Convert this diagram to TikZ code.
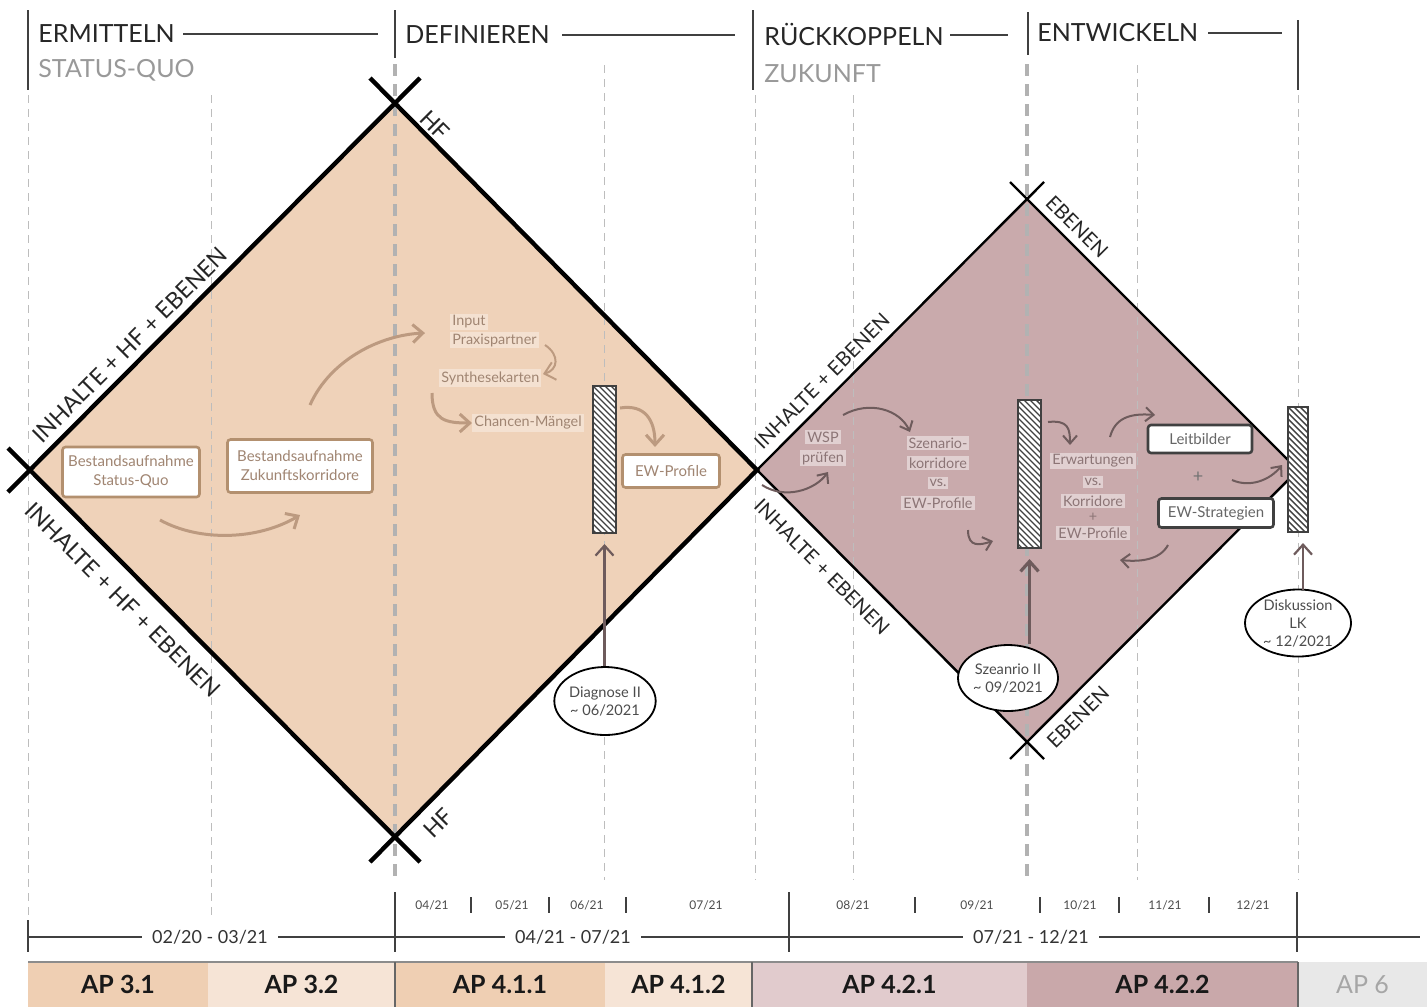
\documentclass[tikz,border=0pt]{standalone}
\usepackage{fontspec}
\setmainfont{Lato}
\usetikzlibrary{shapes.geometric,arrows.meta,calc}
\definecolor{peach}{HTML}{EFD2B9}
\definecolor{mauve}{HTML}{C9AAAC}
\definecolor{bbrown}{HTML}{B3906F}
\definecolor{tbrown}{HTML}{A08572}
\definecolor{abrown}{HTML}{BC9A80}
\definecolor{tmauve}{HTML}{8C7576}
\definecolor{amauve}{HTML}{6E5B5C}
\definecolor{lgrey}{HTML}{BDBDBD}
\definecolor{ap31}{HTML}{EFCFB3}
\definecolor{ap32}{HTML}{F6E4D6}
\definecolor{ap421}{HTML}{E1CBCD}
\definecolor{ap422}{HTML}{C9A8AA}
\definecolor{ap6}{HTML}{E8E8E8}
\begin{document}
\begin{tikzpicture}[x=0.5pt,y=-0.5pt,
 hdr/.style={font=\fontsize{12.5}{14}\selectfont, text=black!85, anchor=west, inner sep=0},
 subhdr/.style={hdr, text=black!40},
 vsolid/.style={line width=0.7pt, black!75},
 thindash/.style={lgrey, line width=0.5pt, dash pattern=on 4pt off 3pt},
 thickdash/.style={black!30, line width=1.6pt, dash pattern=on 6pt off 4pt},
 edgeone/.style={line width=2.2pt, black},
 edgetwo/.style={line width=1.2pt, black},
 diaglbl/.style={font=\fontsize{11.5}{13}\selectfont, text=black!85, inner sep=0},
 bbox/.style={draw=bbrown, line width=1.3pt, fill=white, rounded corners=1.5pt, text=tbrown, align=center, font=\fontsize{7.5}{9.5}\selectfont, inner sep=0},
 dbox/.style={bbox, draw=black!75, text=black!60},
 ftxt/.style={text=tbrown, font=\fontsize{7.2}{9}\selectfont, fill=white, fill opacity=0.35, text opacity=1, inner sep=1pt},
 mtxt/.style={ftxt, text=tmauve, fill opacity=0.45},
 barr/.style={abrown, line width=1.5pt, -{Straight Barb[length=5pt,width=9pt]}},
 marr/.style={amauve, line width=1pt, -{Straight Barb[length=4pt,width=7pt]}},
 varr/.style={amauve, line width=1.1pt, -{Straight Barb[length=5pt,width=9pt]}},
 hbar/.style={draw=black!75, line width=1pt, fill=white, inner sep=0, path picture={\foreach \k in {0,...,36}{\draw[black!75, line width=0.7pt] ([yshift={18pt-\k*3pt}]path picture bounding box.north west) -- ++(16pt,-16pt);}}},
 bubble/.style={ellipse, draw=black, line width=0.9pt, fill=white, align=center, text=black!70, font=\fontsize{7.3}{9}\selectfont, inner sep=0},
 mon/.style={font=\fontsize{6}{7}\selectfont, text=black!70},
 spanlbl/.style={font=\fontsize{9}{10}\selectfont, text=black!80, fill=white, inner xsep=5pt, inner ysep=1pt},
 apbox/.style={font=\bfseries\fontsize{12.5}{14}\selectfont, text=black!90, inner sep=0, minimum height=22.5pt}
]
\useasboundingbox (0,0) rectangle (1427,1007);
\fill[white] (0,0) rectangle (1427,1007);

% diamond fills
\fill[peach] (30,470) -- (395,103) -- (757,470) -- (395,837) -- cycle;
\fill[mauve] (757,470) -- (1027,199) -- (1298,470) -- (1027,742) -- cycle;

% header
\node[hdr] (h1) at (38,34) {ERMITTELN};
\node[subhdr] (s1) at (38,70) {STATUS-QUO};
\node[hdr] (h2) at (405,35) {DEFINIEREN};
\node[hdr] (h3) at (764,34) {RÜCKKOPPELN};
\node[subhdr] (s3) at (764,74) {ZUKUNFT};
\node[hdr] (h4) at (1037,33) {ENTWICKELN};
\draw[vsolid] (183,34) -- (378,34);
\draw[vsolid] (562,35) -- (735,35);
\draw[vsolid] (950,35) -- (1008,35);
\draw[vsolid] (1208,33) -- (1282,33);
\draw[vsolid] (28,10) -- (28,90);
\draw[vsolid] (395,10) -- (395,58);
\draw[vsolid] (753,10) -- (753,90);
\draw[vsolid] (1028,12) -- (1028,55);
\draw[vsolid] (1298,20) -- (1298,90);

% dashed guides
\foreach \xx in {28,211} \draw[thindash] (\xx,95) -- (\xx,915);
\foreach \xx in {604,1137} \draw[thindash] (\xx,65) -- (\xx,880);
\foreach \xx in {755,853,1298} \draw[thindash] (\xx,95) -- (\xx,880);
\draw[thickdash] (395,64) -- (395,880);
\draw[thickdash] (1027,64) -- (1027,880);

% diamond 1 edges
\draw[edgeone] (8,492) -- (420,78);
\draw[edgeone] (8,448) -- (420,862);
\draw[edgeone] (370,78) -- (757,470) -- (370,862);
% diamond 2 edges
\draw[edgetwo] (757,470) -- (1044,182);
\draw[edgetwo] (757,470) -- (1044,759);
\draw[edgetwo] (1010,182) -- (1298,470) -- (1010,759);

% diagonal labels
\node[diaglbl, rotate=45] (l1) at (130,345) {INHALTE + HF + EBENEN};
\node[diaglbl, rotate=-45] (l2) at (123,600) {INHALTE + HF + EBENEN};
\node[diaglbl, rotate=-45] (l3) at (435,125) {HF};
\node[diaglbl, rotate=45] (l4) at (438,823) {HF};
\node[diaglbl, font=\fontsize{10}{12}\selectfont, rotate=45] (l5) at (822,381) {INHALTE + EBENEN};
\node[diaglbl, font=\fontsize{10}{12}\selectfont, rotate=-45] (l6) at (822,567) {INHALTE + EBENEN};
\node[diaglbl, font=\fontsize{10}{12}\selectfont, rotate=-45] (l7) at (1077,227) {EBENEN};
\node[diaglbl, font=\fontsize{10}{12}\selectfont, rotate=45] (l8) at (1078,717) {EBENEN};

% diamond 1 content
\node[bbox, minimum width=68.5pt, minimum height=25pt] (b1) at (131,472) {Bestandsaufnahme\\Status-Quo};
\node[bbox, minimum width=72.5pt, minimum height=26.5pt] (b2) at (300,466) {Bestandsaufnahme\\Zukunftskorridore};
\node[bbox, minimum width=48.5pt, minimum height=16.5pt] (ewp) at (671,471) {EW-Profile};
\node[ftxt, anchor=west] (inp) at (450,322) {Input};
\node[ftxt, anchor=west] (prx) at (450,340) {Praxispartner};
\node[ftxt, anchor=west] (syn) at (439,378) {Synthesekarten};
\node[ftxt, anchor=west] (chm) at (472,423) {Chancen-Mängel};
\coordinate (a1s) at (160,520);
\coordinate (a2s) at (310,405);
\coordinate (a2e) at (425,333);
\draw[barr] (a1s) .. controls (200,542) and (258,540) .. (300,515);
\draw[barr] (a2s) .. controls (330,360) and (380,335) .. (a2e);
\draw[barr, line width=1pt] (545,345) .. controls (560,355) and (558,370) .. (543,374);
\draw[barr] (432,393) .. controls (432,420) and (445,423) .. (chm.west);
\draw[barr] (620,408) .. controls (645,404) and (655,420) .. (655,447);

% bars
\node[hbar, minimum width=11.5pt, minimum height=73.5pt] (bar1) at (604.5,459.5) {};
\node[hbar, minimum width=11.5pt, minimum height=74pt] (bar2) at (1029.5,474) {};
\node[hbar, minimum width=10pt, minimum height=62.5pt] (bar3) at (1298,469.5) {};

% diamond 2 content
\node[mtxt] (wsp) at (823,437) {WSP};
\node[mtxt] (pru) at (823,458) {prüfen};
\node[mtxt] (sz1) at (938,443) {Szenario-};
\node[mtxt] (sz2) at (938,463) {korridore};
\node[mtxt] (sz3) at (938,483) {vs.};
\node[mtxt] (sz4) at (938,503) {EW-Profile};
\node[mtxt] (er1) at (1093,461) {Erwartungen};
\node[mtxt] (er2) at (1093,482) {vs.};
\node[mtxt] (er3) at (1093,501) {Korridore};
\node[mtxt, fill opacity=0] (er4) at (1093,517) {+};
\node[mtxt] (er5) at (1093,533) {EW-Profile};
\node[dbox, minimum width=52pt, minimum height=14pt] (leit) at (1200,439) {Leitbilder};
\node[dbox, minimum width=57.5pt, minimum height=14.5pt] (ews) at (1216,513) {EW-Strategien};
\node[text=black!55, font=\fontsize{9}{10}\selectfont] (plus) at (1198,477) {+};
\draw[marr] (762,485) .. controls (785,500) and (815,490) .. (828,472);
\draw[marr] (843,415) .. controls (870,400) and (900,410) .. (910,432);
\draw[marr] (968,530) .. controls (968,548) and (980,545) .. (993,541);
\draw[marr] (1048,422) .. controls (1068,420) and (1070,428) .. (1070,445);
\draw[marr] (1110,437) .. controls (1115,418) and (1130,413) .. (1155,415);
\draw[marr] (1232,480) .. controls (1250,488) and (1270,480) .. (1282,465);
\draw[marr] (1168,545) .. controls (1160,560) and (1140,562) .. (1120,560);

% bubbles
\node[bubble, minimum width=45pt, minimum height=34pt] (diag) at (605,701) {Diagnose II\\\textasciitilde{} 06/2021};
\node[bubble, minimum width=50pt, minimum height=33pt] (szen) at (1008,678) {Szeanrio II\\\textasciitilde{} 09/2021};
\node[bubble, minimum width=53pt, minimum height=33pt] (disk) at (1298,623) {Diskussion\\LK\\\textasciitilde{} 12/2021};
\coordinate (dtop) at (1303,590);
\coordinate (dend) at (1303,533);
\draw[varr, shorten >=5pt] (bar1.south |- diag.north) -- (bar1.south);
\draw[varr, line width=1.6pt, shorten >=5pt] (bar2.south |- szen.north) -- (bar2.south);
\draw[varr, shorten >=5pt] (dtop) -- (dend);

% bottom timeline
\foreach \xx/\tt in {432/{04/21},512/{05/21},587/{06/21},706/{07/21},853/{08/21},977/{09/21},1080/{10/21},1165/{11/21},1253/{12/21}}
  \node[mon] at (\xx,905) {\tt};
\foreach \xx in {471,549,626,915,1040,1119,1209} \draw[line width=0.8pt, black!75] (\xx,897) -- (\xx,913);
\draw[vsolid] (28,920) -- (28,952);
\foreach \xx in {395,789,1297} \draw[vsolid] (\xx,892) -- (\xx,952);
\draw[vsolid] (28,937) -- (1420,937);
\node[spanlbl] (t1) at (210,937) {02/20 - 03/21};
\node[spanlbl] (t2) at (573,937) {04/21 - 07/21};
\node[spanlbl] (t3) at (1031,937) {07/21 - 12/21};

% AP bar
\node[apbox, fill=ap31, minimum width=90pt] (ap1) at (118,984.5) {AP 3.1};
\node[apbox, fill=ap32, minimum width=93.5pt] (ap2) at (301.5,984.5) {AP 3.2};
\node[apbox, fill=ap31, minimum width=105pt] (ap3) at (500,984.5) {AP 4.1.1};
\node[apbox, fill=ap32, minimum width=73.5pt] (ap4) at (678.5,984.5) {AP 4.1.2};
\node[apbox, fill=ap421, minimum width=137.5pt] (ap5) at (889.5,984.5) {AP 4.2.1};
\node[apbox, fill=ap422, minimum width=135.5pt] (ap6) at (1162.5,984.5) {AP 4.2.2};
\node[apbox, fill=ap6, text=black!35, font=\fontsize{12.5}{14}\selectfont, minimum width=64.5pt] (ap7) at (1362.5,984.5) {AP 6};
\draw[line width=0.6pt, black!45] (28,962) -- (1298,962);
\draw[line width=0.6pt, black!60] (395,962) -- (395,1007);
\draw[line width=0.6pt, black!60] (752,962) -- (752,1007);
\draw[line width=0.6pt, black!60] (1298,962) -- (1298,1007);
\end{tikzpicture}
\end{document}
